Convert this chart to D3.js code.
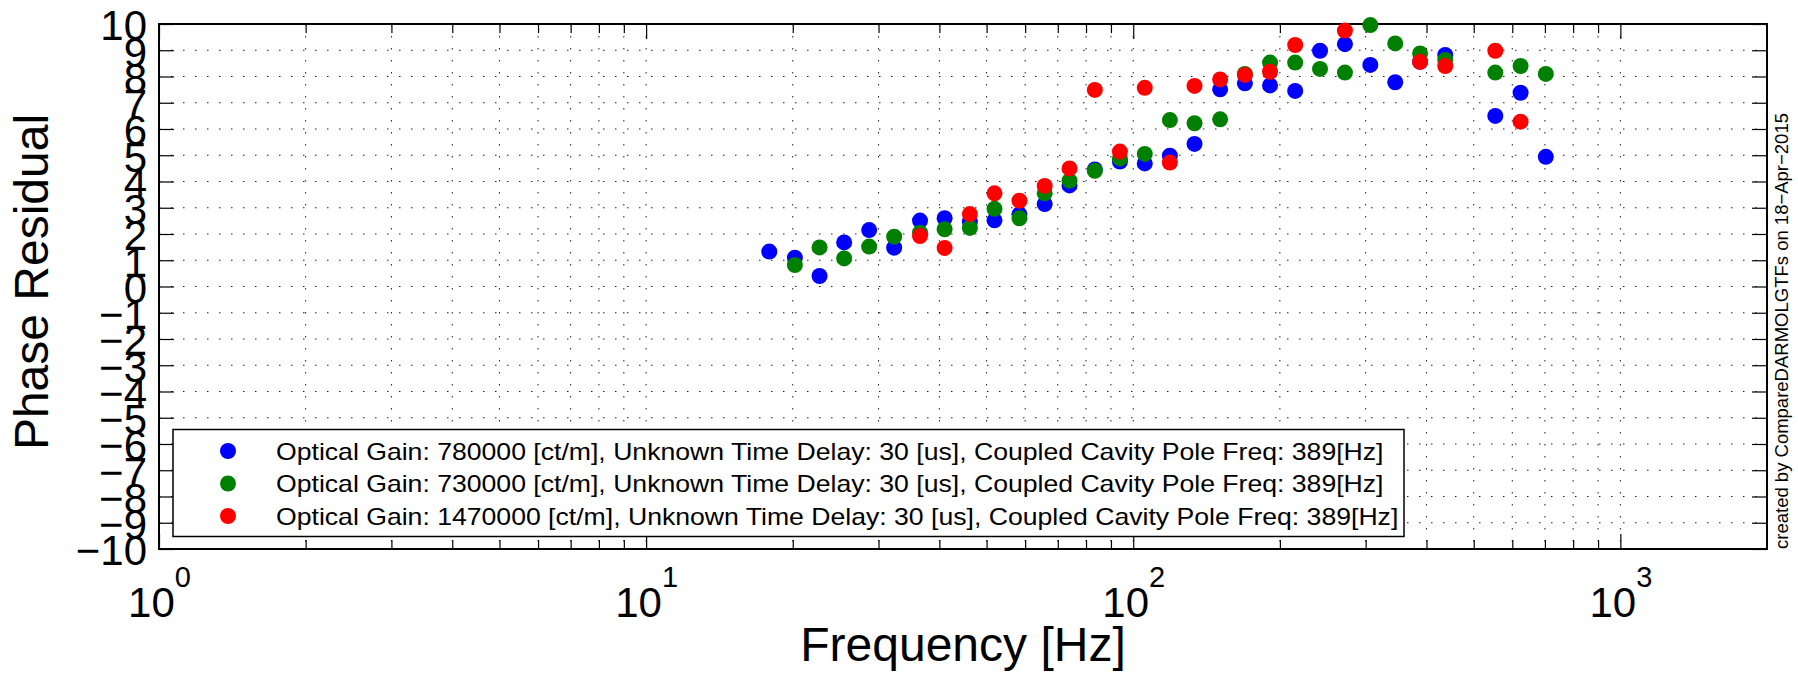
<!DOCTYPE html>
<html>
<head>
<meta charset="utf-8">
<script src="https://cdn.jsdelivr.net/npm/d3@7"></script>
<style>
  body { margin: 0; background: #fff; }
  text { font-family: 'Liberation Sans', Arial, sans-serif; fill: #000; }
</style>
</head>
<body>
<div id="plotholder"></div>
<script>
// frequency points [Hz], shared by all three series (null = no point)
const FREQ = [17.9, 20.2, 22.7, 25.5, 28.7, 32.3, 36.5, 41.0, 46.2, 51.9, 58.4, 65.8, 74.0, 83.4,
  93.9, 105.6, 118.9, 133.6, 150.8, 169.5, 190.9, 215, 241.8, 272, 306.7, 345, 388, 437, 553.7, 624, 703]

const PHASE_780K = [1.33, 1.10, 0.40, 1.68, 2.15, 1.48, 2.51, 2.60, 2.47, 2.52, 2.75, 3.14, 3.85, 4.46,
  4.76, 4.69, 4.98, 5.43, 7.51, 7.74, 7.66, 7.45, 8.98, 9.23, 8.44, 7.78, 8.56, 8.82, 6.50, 7.38, 4.94]

const PHASE_730K = [null, 0.82, 1.49, 1.07, 1.52, 1.90, 2.05, 2.18, 2.23, 2.96, 2.60, 3.55, 4.03, 4.41,
  4.88, 5.05, 6.34, 6.22, 6.37, 8.10, 8.53, 8.53, 8.29, 8.15, 9.96, 9.26, 8.88, 8.63, 8.15, 8.40, 8.10]

const PHASE_1470K = [null, null, null, null, null, null, 1.92, 1.47, 2.76, 3.55, 3.27, 3.83, 4.50, 7.49,
  5.14, 7.57, 4.72, 7.64, 7.89, 8.06, 8.18, 9.20, null, 9.75, null, null, 8.56, 8.40, 8.98, 6.28, null]

const SERIES_NAMES = [
  'Optical Gain: 780000 [ct/m], Unknown Time Delay: 30 [us], Coupled Cavity Pole Freq: 389[Hz]',
  'Optical Gain: 730000 [ct/m], Unknown Time Delay: 30 [us], Coupled Cavity Pole Freq: 389[Hz]',
  'Optical Gain: 1470000 [ct/m], Unknown Time Delay: 30 [us], Coupled Cavity Pole Freq: 389[Hz]',
]
const SERIES_COLORS = ['#0000ff', '#008000', '#ff0000']

const X_MAJOR = [1, 10, 100, 1000]
const X_MINOR = [2, 3, 4, 5, 6, 7, 8, 9, 20, 30, 40, 50, 60, 70, 80, 90,
  200, 300, 400, 500, 600, 700, 800, 900]
const Y_TICKS = [-10, -9, -8, -7, -6, -5, -4, -3, -2, -1, 0, 1, 2, 3, 4, 5, 6, 7, 8, 9, 10]

const WIDTH = 1798
const HEIGHT = 676
const box = { left: 159, right: 1767, top: 24, bottom: 549 }

const svg = d3.select('#plotholder').append('svg')
  .attr('width', WIDTH)
  .attr('height', HEIGHT)
  .style('background-color', '#fff')

const xscale = d3.scaleLog().domain([1, 2000]).range([box.left, box.right])
const yscale = d3.scaleLinear().domain([-10, 10]).range([box.bottom, box.top])

/* dotted grid, matlab style */
const grid = svg.append('g')
  .attr('stroke', '#222')
  .attr('stroke-width', 1)
  .attr('stroke-dasharray', '1.5,10.5')
grid.selectAll('line.v')
  .data(X_MAJOR.concat(X_MINOR).filter(v => v > 1))
  .enter().append('line')
  .attr('x1', d => xscale(d)).attr('x2', d => xscale(d))
  .attr('y1', box.top).attr('y2', box.bottom)
grid.selectAll('line.h')
  .data(Y_TICKS.filter(v => Math.abs(v) < 10))
  .enter().append('line')
  .attr('x1', box.left).attr('x2', box.right)
  .attr('y1', d => yscale(d)).attr('y2', d => yscale(d))

const tickstyle = g => {
  g.select('.domain').remove()
  g.selectAll('.tick line').attr('stroke', '#000').attr('stroke-width', 1.2)
}

// inward ticks on all four sides
svg.append('g').attr('transform', `translate(0,${box.bottom})`)
  .call(d3.axisBottom(xscale).tickValues(X_MINOR).tickSize(-9).tickFormat(''))
  .call(tickstyle)
svg.append('g').attr('transform', `translate(0,${box.top})`)
  .call(d3.axisTop(xscale).tickValues(X_MINOR).tickSize(-9).tickFormat(''))
  .call(tickstyle)
svg.append('g').attr('transform', `translate(0,${box.top})`)
  .call(d3.axisTop(xscale).tickValues(X_MAJOR).tickSize(-15).tickFormat(''))
  .call(tickstyle)

const xmajor = svg.append('g').attr('transform', `translate(0,${box.bottom})`)
  .call(d3.axisBottom(xscale).tickValues(X_MAJOR).tickSize(-15).tickFormat(''))
  .call(tickstyle)
xmajor.attr('font-size', null).attr('font-family', null)
xmajor.selectAll('.tick text').each(function (d) {
  const t = d3.select(this)
    .attr('y', 68).attr('dy', null)
    .attr('text-anchor', 'middle')
    .style('font-size', '42px')
  t.append('tspan').text('10')
  t.append('tspan').attr('dy', -30).style('font-size', '29px').text(Math.round(Math.log10(d)))
})

const yleft = svg.append('g').attr('transform', `translate(${box.left},0)`)
  .call(d3.axisLeft(yscale).tickValues(Y_TICKS).tickSize(-15).tickPadding(12))
  .call(tickstyle)
yleft.attr('font-size', null).attr('font-family', null)
yleft.selectAll('.tick text').style('font-size', '42px').attr('dy', '0.38em')

svg.append('g').attr('transform', `translate(${box.right},0)`)
  .call(d3.axisRight(yscale).tickValues(Y_TICKS).tickSize(-15).tickFormat(''))
  .call(tickstyle)

svg.append('rect')
  .attr('x', box.left).attr('y', box.top)
  .attr('width', box.right - box.left).attr('height', box.bottom - box.top)
  .attr('fill', 'none').attr('stroke', '#000').attr('stroke-width', 2)

/* the three measurement sets */
const allseries = [PHASE_780K, PHASE_730K, PHASE_1470K]
allseries.forEach((vals, k) => {
  const pts = FREQ.map((f, i) => [f, vals[i]]).filter(p => p[1] !== null)
  svg.append('g').selectAll('circle')
    .data(pts)
    .enter().append('circle')
    .attr('cx', d => xscale(d[0]))
    .attr('cy', d => yscale(d[1]))
    .attr('r', 8)
    .attr('fill', SERIES_COLORS[k])
})

// legend; the original font runs wider than Liberation, so stretch the labels a bit
const legend = svg.append('g')
legend.append('rect')
  .attr('x', 173).attr('y', 429.5).attr('width', 1231).attr('height', 107)
  .attr('fill', '#fff').attr('stroke', '#000').attr('stroke-width', 1.5)
const labels = SERIES_NAMES.map((name, k) => {
  const cy = 451 + k * 32.5
  legend.append('circle').attr('cx', 228).attr('cy', cy).attr('r', 8).attr('fill', SERIES_COLORS[k])
  return legend.append('text').attr('dy', '0.36em')
    .style('font-size', '24px').text(name)
})
const widest = d3.max(labels, t => t.node().getComputedTextLength())
const stretch = 1123 / widest
labels.forEach((t, k) => t.attr('transform', `translate(276,${451 + k * 32.5}) scale(${stretch},1)`))

// axis labels
svg.append('text')
  .attr('x', (box.left + box.right) / 2).attr('y', 661)
  .attr('text-anchor', 'middle')
  .style('font-size', '48px')
  .text('Frequency [Hz]')

svg.append('text')
  .attr('transform', 'translate(48,282) rotate(-90)')
  .attr('text-anchor', 'middle')
  .style('font-size', '48px')
  .text('Phase Residual')

svg.append('text')
  .attr('transform', `translate(1788,${box.bottom}) rotate(-90)`)
  .style('font-size', '18.5px')
  .text('created by CompareDARMOLGTFs on 18\u2212Apr\u22122015')
</script>
</body>
</html>
